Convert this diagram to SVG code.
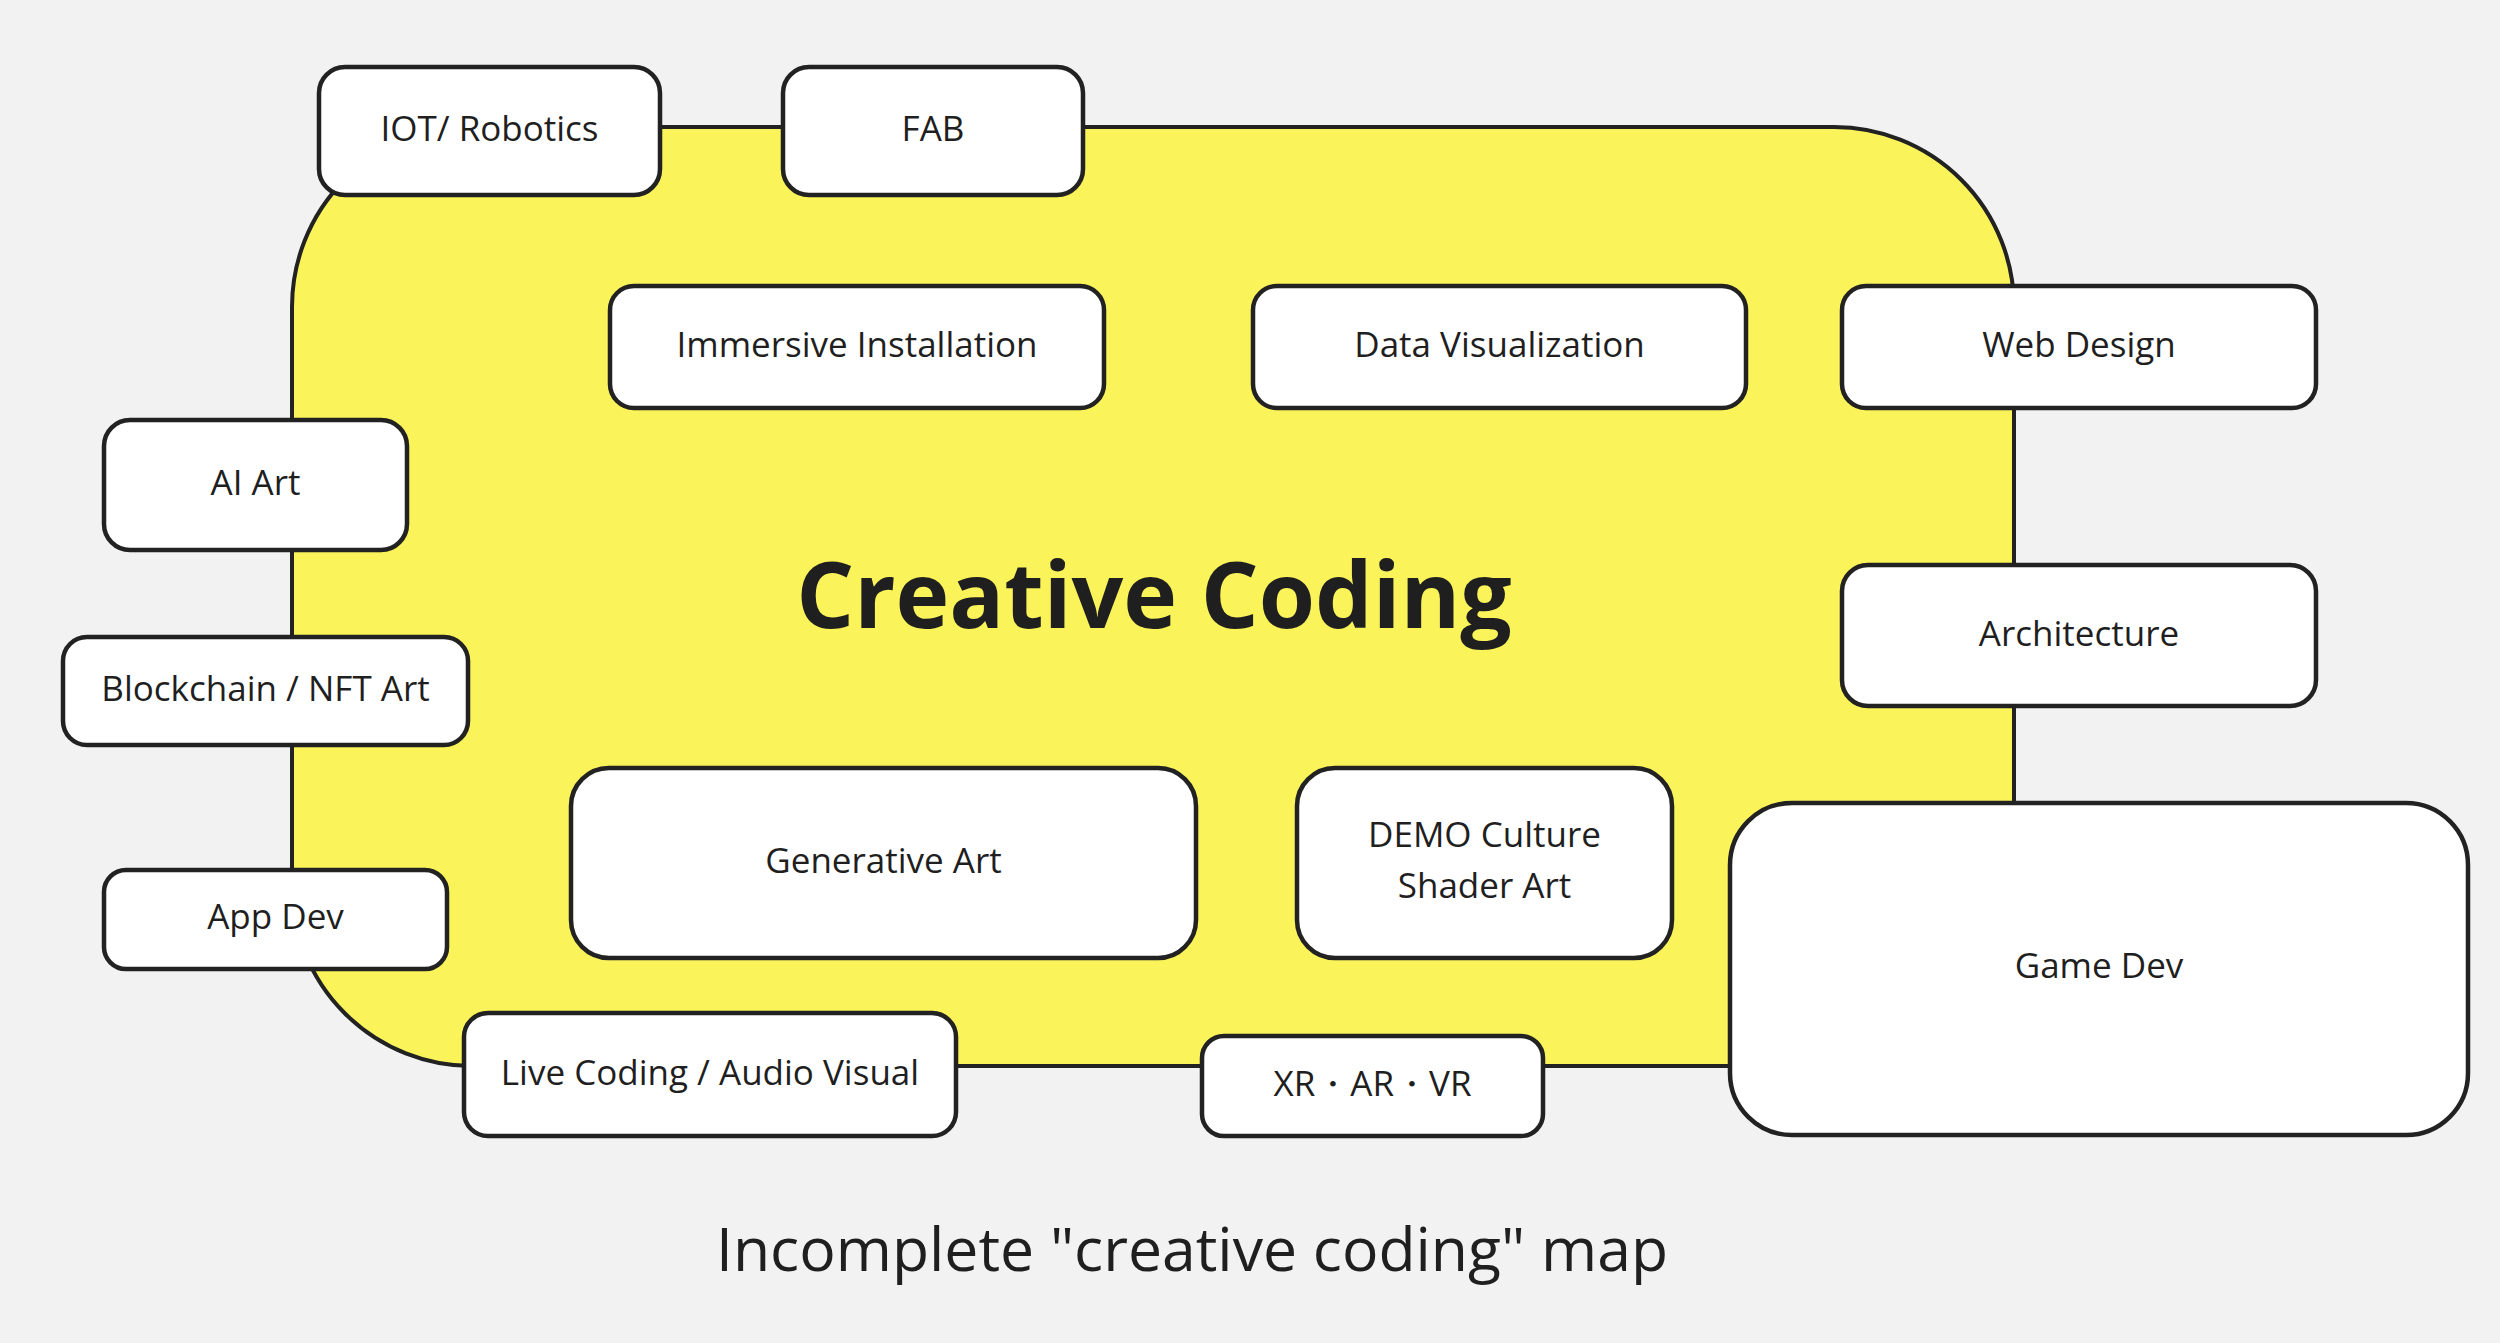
<svg xmlns="http://www.w3.org/2000/svg" width="2500" height="1343" viewBox="0 0 2500 1343">
  <style>
    .bg { fill: #f2f2f2; }
    .area { fill: #faf35a; stroke: #222222; stroke-width: 4; }
    .box { fill: #ffffff; stroke: #222222; stroke-width: 4.5; }
    .lbl { font-family: "Open Sans", "Noto Sans", "Liberation Sans", sans-serif; font-size: 35px; fill: #1f1f1f; text-anchor: middle; }
    .title { font-family: "Open Sans", "Noto Sans", "Liberation Sans", sans-serif; font-size: 91px; font-weight: 700; fill: #1f1f1f; text-anchor: middle; }
    .caption { font-family: "Open Sans", "Noto Sans", "Liberation Sans", sans-serif; font-size: 60.7px; fill: #1f1f1f; text-anchor: middle; }
  </style>
  <rect class="bg" x="0" y="0" width="2500" height="1343"/>

  <g id="creative-coding">
    <rect class="area" x="292" y="127" width="1722" height="939" rx="180" ry="180"/>
    <text class="title" x="1154" y="628">Creative Coding</text>
  </g>

  <g id="connectors"></g>

  <g id="iot-robotics">
    <rect class="box" x="319" y="67" width="341" height="128" rx="26"/>
    <text class="lbl" x="489.5" y="141">IOT/ Robotics</text>
  </g>
  <g id="fab">
    <rect class="box" x="783" y="67" width="300" height="128" rx="26"/>
    <text class="lbl" x="933" y="141">FAB</text>
  </g>
  <g id="immersive-installation">
    <rect class="box" x="610" y="286" width="494" height="122" rx="24"/>
    <text class="lbl" x="857" y="357">Immersive Installation</text>
  </g>
  <g id="data-visualization">
    <rect class="box" x="1253" y="286" width="493" height="122" rx="24"/>
    <text class="lbl" x="1499.5" y="357">Data Visualization</text>
  </g>
  <g id="web-design">
    <rect class="box" x="1842" y="286" width="474" height="122" rx="24"/>
    <text class="lbl" x="2079" y="357">Web Design</text>
  </g>
  <g id="ai-art">
    <rect class="box" x="104" y="420" width="303" height="130" rx="26"/>
    <text class="lbl" x="255.5" y="495">AI Art</text>
  </g>
  <g id="blockchain-nft-art">
    <rect class="box" x="63" y="637" width="405" height="108" rx="24"/>
    <text class="lbl" x="265.5" y="701">Blockchain / NFT Art</text>
  </g>
  <g id="architecture">
    <rect class="box" x="1842" y="565" width="474" height="141" rx="26"/>
    <text class="lbl" x="2079" y="646">Architecture</text>
  </g>
  <g id="generative-art">
    <rect class="box" x="571" y="768" width="625" height="190" rx="38"/>
    <text class="lbl" x="883.5" y="873">Generative Art</text>
  </g>
  <g id="demo-culture-shader-art">
    <rect class="box" x="1297" y="768" width="375" height="190" rx="38"/>
    <text class="lbl" x="1484.5" y="847">DEMO Culture</text>
    <text class="lbl" x="1484.5" y="898">Shader Art</text>
  </g>
  <g id="app-dev">
    <rect class="box" x="104" y="870" width="343" height="99" rx="22"/>
    <text class="lbl" x="275.5" y="929">App Dev</text>
  </g>
  <g id="game-dev">
    <rect class="box" x="1730" y="803" width="738" height="332" rx="62"/>
    <text class="lbl" x="2099" y="978">Game Dev</text>
  </g>
  <g id="live-coding-audio-visual">
    <rect class="box" x="464" y="1013" width="492" height="123" rx="24"/>
    <text class="lbl" x="710" y="1085">Live Coding / Audio Visual</text>
  </g>
  <g id="xr-ar-vr">
    <rect class="box" x="1202" y="1036" width="341" height="100" rx="22"/>
    <text class="lbl" x="1372.5" y="1096">XR・AR・VR</text>
  </g>

  <text class="caption" x="1192" y="1271">Incomplete "creative coding" map</text>
</svg>
